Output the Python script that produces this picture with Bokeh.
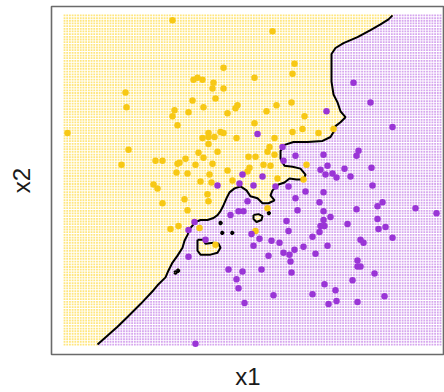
import numpy as np
from bokeh.plotting import figure
from bokeh.models import Range1d, FixedTicker
from bokeh.embed import file_html
from bokeh.resources import INLINE

# ---- training points (x1, x2) ----
yellow_x = [172, 223, 193, 197, 202, 213, 212, 223, 125, 215, 192, 126, 203, 174, 188, 172, 227, 235, 237,
            177, 67, 208, 220, 223, 202, 208, 214, 236, 208, 128, 198, 217, 203, 185, 155, 162, 121, 177,
            179, 195, 212, 227, 176, 187, 209, 232, 200, 211, 153, 157, 162, 184, 207, 208, 187, 170, 178,
            199, 215, 272, 294, 292, 254, 276, 291, 266, 304, 254, 302, 292, 318, 333, 274, 269, 267, 274,
            248, 255, 263, 270, 306, 249, 247, 277, 303, 255, 267]
yellow_y = [20, 68, 80, 78, 80, 83, 89, 89, 93, 99, 101, 108, 108, 111, 113, 117, 114, 109, 106,
            126, 134, 134, 133, 134, 139, 138, 138, 139, 145, 151, 154, 153, 159, 160, 162, 162, 166, 165,
            164, 166, 165, 172, 174, 175, 176, 182, 183, 184, 186, 190, 205, 201, 196, 203, 212, 231, 228,
            230, 247, 31, 64, 74, 78, 106, 103, 112, 117, 124, 130, 133, 134, 130, 139, 148, 153, 156,
            158, 158, 166, 167, 166, 169, 173, 180, 181, 233, 210]

purple_x = [217, 239, 353, 370, 326, 392, 257, 282, 295, 323, 358, 356, 283, 327, 320, 325, 332, 336, 344,
            350, 371, 372, 242, 262, 253, 275, 288, 305, 323, 238, 243, 230, 247, 295, 319, 297, 356, 377,
            382, 415, 436, 323, 330, 323, 286, 347, 377, 324, 320, 378, 385, 288, 319, 251, 259, 312, 392,
            360, 363, 271, 279, 303, 327, 253, 294, 283, 289, 315, 268, 290, 357, 357, 360, 261, 242, 291,
            374, 236, 352, 324, 238, 335, 273, 312, 384, 244, 328, 336, 357, 194, 188, 205, 188, 228, 195]
purple_y = [187, 185, 83, 103, 112, 128, 135, 148, 157, 156, 152, 157, 162, 167, 171, 176, 175, 179, 170,
            178, 169, 187, 176, 178, 187, 188, 188, 193, 194, 213, 213, 217, 203, 200, 204, 212, 211, 208,
            204, 210, 215, 213, 219, 222, 223, 226, 221, 228, 228, 231, 229, 233, 234, 236, 241, 239, 240,
            242, 245, 243, 245, 249, 248, 248, 252, 255, 257, 256, 258, 264, 263, 269, 269, 272, 274, 275,
            276, 282, 283, 287, 291, 293, 298, 297, 299, 306, 307, 304, 305, 224, 232, 242, 259, 272, 347]

# ---- decision boundary (main curve, top to bottom) ----
boundary_x = [392, 388, 380, 370, 357, 343, 335, 331, 331, 333, 337, 340, 345, 340, 335, 333, 330, 322, 307,
              293, 284, 280, 280, 284, 292, 300, 305, 303, 296, 289, 284, 278, 272, 270, 274, 268, 262, 257,
              250, 246, 240, 234, 229, 226, 223, 220, 217, 213, 207, 200, 195, 190, 187, 184, 182, 177, 172,
              168, 165, 157, 153, 140, 127, 117, 97]
boundary_y = [15, 19, 24, 30, 37, 43, 48, 54, 82, 95, 103, 112, 118, 123, 127, 133, 138, 142, 143,
              143, 146, 152, 160, 167, 168, 170, 176, 181, 181, 180, 184, 186, 192, 197, 202, 205, 205, 200,
              198, 192, 188, 190, 194, 200, 207, 213, 217, 220, 222, 222, 224, 230, 237, 243, 250, 258, 265,
              273, 280, 288, 293, 307, 320, 330, 348]

# ---- closed islands of the boundary ----
island_xs = [[197, 203, 205, 213, 218, 220, 217, 210, 200, 197, 197],
             [253, 258, 262, 261, 256, 253, 253],
             [173.5, 175, 176.5, 175, 173.5], [176, 177.5, 179, 177.5, 176],
             [220.2, 221.7, 223.2, 221.7, 220.2], [230.2, 231.7, 233.2, 231.7, 230.2],
             [218.5, 220, 221.5, 220, 218.5], [266.8, 268.3, 269.8, 268.3, 266.8]]
island_ys = [[242, 242, 246, 245, 246, 250, 255, 257, 257, 253, 242],
             [217, 216, 218, 222, 224, 221, 217],
             [275, 273.5, 275, 276.5, 275], [273.3, 271.8, 273.3, 274.8, 273.3],
             [235, 233.5, 235, 236.5, 235], [235, 233.5, 235, 236.5, 235],
             [225, 223.5, 225, 226.5, 225], [215, 213.5, 215, 216.5, 215]]

# prediction grid extent and size
grid_x_lo, grid_x_hi, grid_nx = 64, 440, 140
grid_y_lo, grid_y_hi, grid_ny = 15, 348, 124


def inside(px, py, vx, vy):
    vx = np.asarray(vx, float)
    vy = np.asarray(vy, float)
    res = np.zeros(px.shape, bool)
    j = len(vx) - 1
    for i in range(len(vx)):
        xi, yi, xj, yj = vx[i], vy[i], vx[j], vy[j]
        crosses = (yi > py) != (yj > py)
        xint = (xj - xi) * (py - yi) / ((yj - yi) if yj != yi else 1e-9) + xi
        res ^= crosses & (px < xint)
        j = i
    return res


gx, gy = np.meshgrid(np.linspace(grid_x_lo, grid_x_hi, grid_nx),
                     np.linspace(grid_y_lo, grid_y_hi, grid_ny))
gx = gx.ravel()
gy = gy.ravel()
poly_x = boundary_x + [40, 40, boundary_x[0]]
poly_y = boundary_y + [boundary_y[-1] + 20, 0, 0]
is_yellow = inside(gx, gy, poly_x, poly_y)
for ix, iy in zip(island_xs, island_ys):
    is_yellow ^= inside(gx, gy, ix, iy)

p = figure(width=444, height=392, output_backend="svg", toolbar_location=None,
           x_range=Range1d(51, 444), y_range=Range1d(358, 6),
           min_border_left=51, min_border_right=0, min_border_top=6, min_border_bottom=34)
p.grid.visible = False
p.background_fill_color = "white"
p.border_fill_color = "white"
p.outline_line_color = "#6a6a6a"
p.outline_line_width = 1.6

for ax, lab, so in ((p.xaxis[0], "x1", 8), (p.yaxis[0], "x2", 17)):
    ax.ticker = FixedTicker(ticks=[])
    ax.major_tick_line_color = None
    ax.minor_tick_line_color = None
    ax.major_label_standoff = 0
    ax.axis_line_color = None
    ax.axis_label = lab
    ax.axis_label_standoff = so
    ax.axis_label_text_font = "Liberation Sans"
    ax.axis_label_text_font_style = "normal"
    ax.axis_label_text_font_size = "24px"
    ax.axis_label_text_color = "#1a1a1a"

p.scatter(gx[is_yellow], gy[is_yellow], marker="square", size=1.8, line_color=None,
          fill_color="#FFE67E")
p.scatter(gx[~is_yellow], gy[~is_yellow], marker="square", size=1.8, line_color=None,
          fill_color="#D6A6EE")

p.line(boundary_x, boundary_y, line_color="black", line_width=2)
p.multi_line(island_xs, island_ys, line_color="black", line_width=2)

p.scatter(yellow_x, yellow_y, size=6.5, line_color=None, fill_color="#F7C815")
p.scatter(purple_x, purple_y, size=6.5, line_color=None, fill_color="#9A35D6")

open("out.html", "w").write(file_html(p, INLINE))
